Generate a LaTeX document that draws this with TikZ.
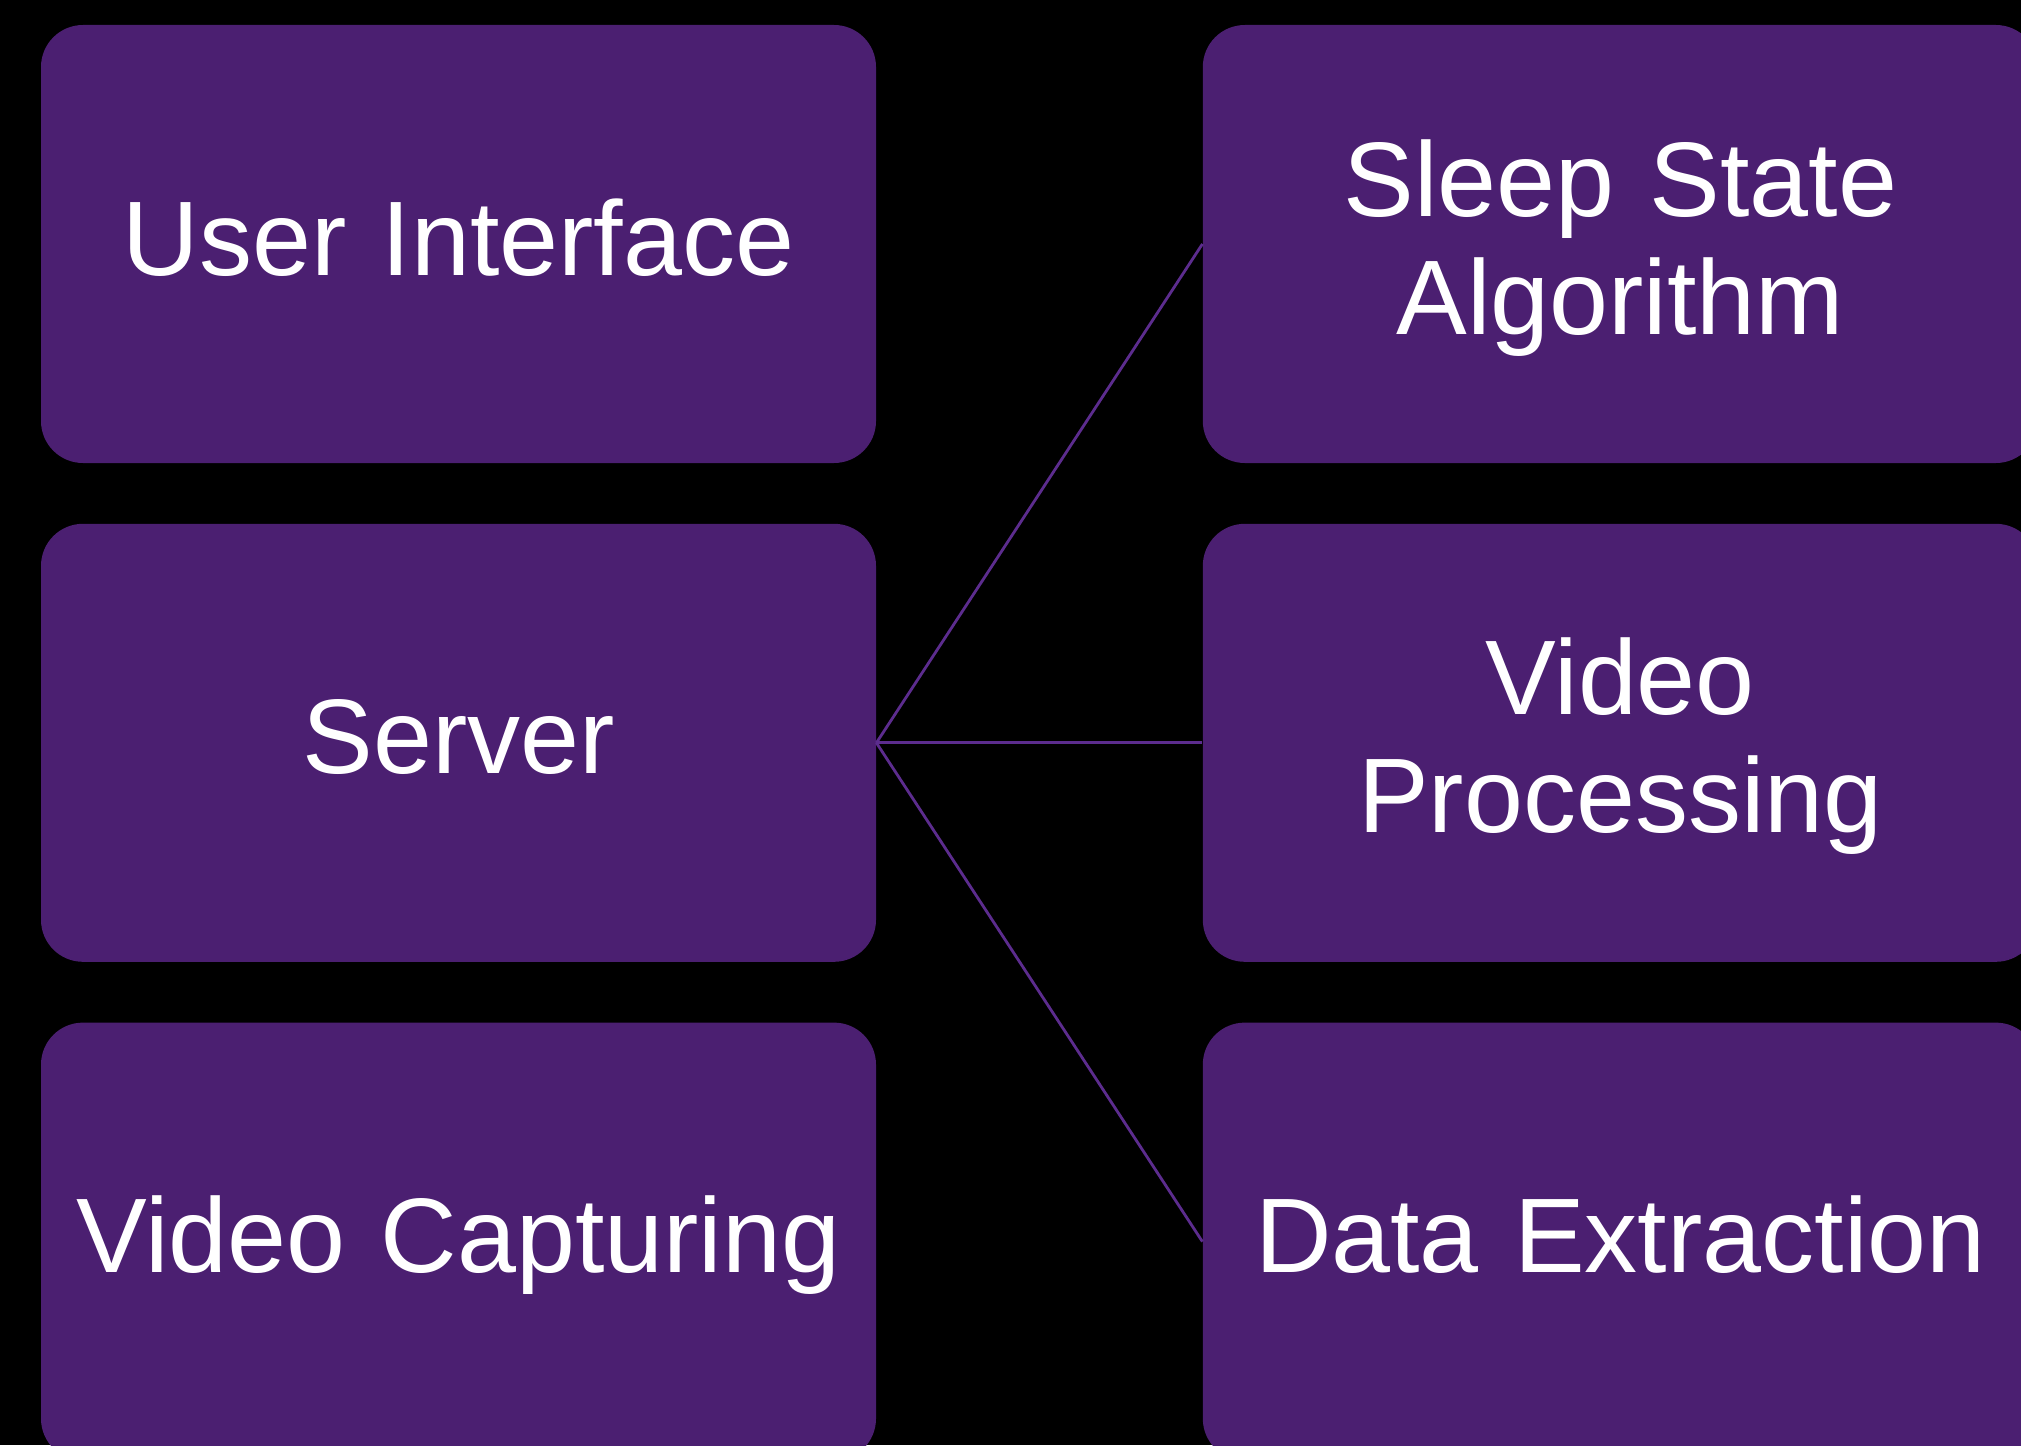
\documentclass[tikz,border=0pt]{standalone}
\usepackage{fontspec}
\setmainfont{Liberation Sans}
\usepackage{xcolor}
\usepackage{tikz}
\usetikzlibrary{positioning}

\definecolor{boxpurple}{RGB}{75,31,113}
\definecolor{linkpurple}{RGB}{92,44,142}
\newcommand{\blockstrut}{\rule[-11pt]{0pt}{53pt}}

\tikzset{
  block/.style={rectangle, rounded corners=21pt, fill=boxpurple, text=white,
    minimum width=417.5pt, minimum height=219pt, inner sep=0pt,
    text width=400pt, align=center, font=\fontsize{53}{59}\selectfont,
    execute at begin node=\blockstrut, execute at end node=\blockstrut},
  link/.style={draw=linkpurple, line width=1.4pt}
}

\begin{document}
\begin{tikzpicture}[node distance=30pt and 163pt]
    % Background
    \fill [black] (0,0) rectangle (1010.5pt,-722.5pt);
    \useasboundingbox (0,0) rectangle (1010.5pt,-722.5pt);
    \clip (0,0) rectangle (1010.5pt,-722.5pt);

    % Nodes
    \node [block] (ui) at (229.25pt,-122pt) {User Interface};
    \node [block, below=of ui] (server) {Server};
    \node [block, below=of server] (capture) {Video Capturing};

    \node [block, right=of ui] (sleep) {Sleep State\\Algorithm};
    \node [block, right=of server] (vproc) {Video\\Processing};
    \node [block, right=of capture] (extract) {Data Extraction};

    % Lines
    \draw [link] (server.east) -- (sleep.west);
    \draw [link] (server.east) -- (vproc.west);
    \draw [link] (server.east) -- (extract.west);
\end{tikzpicture}
\end{document}
